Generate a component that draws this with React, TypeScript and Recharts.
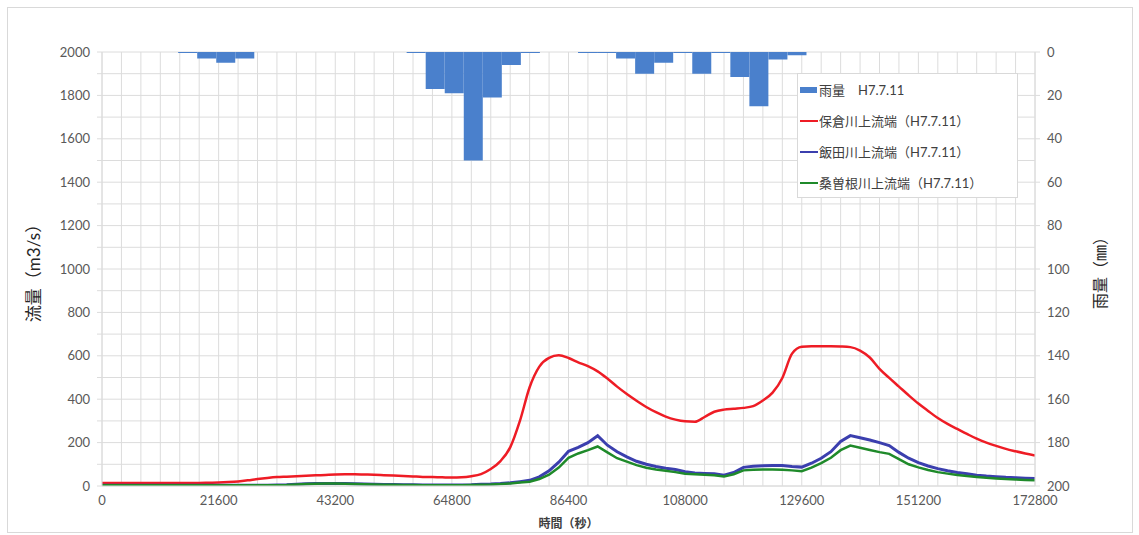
import React from "react";
import {
    ComposedChart,
    Bar,
    Line,
    XAxis,
    YAxis,
    CartesianGrid,
    Legend,
} from "recharts";

const FONT = "Lato, 'Noto Sans CJK JP', sans-serif";

// 雨量 (mm) : 1時間ごと 0〜48
const RAIN_HOURS = [
    0, 1, 2, 3, 4, 5, 6, 7, 8, 9, 10, 11, 12, 13, 14, 15, 16, 17, 18, 19, 20, 21, 22, 23, 24,
    25, 26, 27, 28, 29, 30, 31, 32, 33, 34, 35, 36, 37, 38, 39, 40, 41, 42, 43, 44, 45, 46, 47, 48,
];
const RAIN = [
    0, 0, 0, 0, 0.5, 3, 5, 3, 0, 0, 0, 0, 0, 0, 0, 0, 0.5, 17, 19, 50, 21, 6, 0.5, 0, 0,
    0.5, 0.5, 3, 10, 5, 0.5, 10, 0.5, 11.5, 25, 3.5, 1.5, 0, 0, 0, 0, 0, 0, 0, 0, 0, 0, 0, 0,
];

// 流量 (m3/s) : 30分ごと
const FLOW_TIME = [
    0, 1800, 3600, 5400, 7200, 9000, 10800, 12600, 14400, 16200, 18000, 19800, 21600, 23400,
    25200, 27000, 28800, 30600, 32400, 34200, 36000, 37800, 39600, 41400, 43200, 45000, 46800,
    48600, 50400, 52200, 54000, 55800, 57600, 59400, 61200, 63000, 64800, 66600, 68400, 70200,
    72000, 73800, 75600, 77400, 79200, 81000, 82800, 84600, 86400, 88200, 90000, 91800, 93600,
    95400, 97200, 99000, 100800, 102600, 104400, 106200, 108000, 109800, 111600, 113400, 115200,
    117000, 118800, 120600, 122400, 124200, 126000, 127800, 129600, 131400, 133200, 135000,
    136800, 138600, 140400, 142200, 144000, 145800, 147600, 149400, 151200, 153000, 154800,
    156600, 158400, 160200, 162000, 163800, 165600, 167400, 169200, 171000, 172800,
];
const HOKURA = [
    14, 14, 14, 14, 14, 14, 14, 14, 14, 14, 14, 15, 16, 18, 21, 26, 32, 37, 41, 43,
    45, 47, 49, 51, 53, 54, 54, 53, 52, 50, 48, 46, 44, 42, 41, 40, 39, 40, 45, 55,
    78, 115, 178, 300, 455, 550, 590, 602, 590, 570, 552, 528, 495, 458, 424, 393, 364, 340, 320, 306,
    298, 296, 318, 342, 352, 356, 360, 368, 394, 430, 498, 610, 642, 644, 644, 644, 643, 640, 624, 592,
    540, 498, 458, 418, 380, 346, 313, 286, 263, 240, 218, 200, 185, 171, 160, 150, 141,
];
const IIDA = [
    4, 4, 4, 4, 4, 4, 4, 4, 4, 4, 4, 4, 4, 4, 4, 4, 4, 4, 5,
    6, 8, 10, 11, 12, 12, 11, 10, 9, 8,
    7, 7, 6, 6, 5, 5, 5, 5, 5, 6,
    8, 9, 11, 15, 20, 26, 42, 70, 110, 160,
    178, 200, 232, 188, 158, 134, 114, 100, 90, 82,
    76, 66, 60, 58, 56, 50, 62, 86, 91, 93,
    95, 94, 90, 87, 105, 128, 158, 205, 232, 222,
    212, 200, 186, 155, 128, 108, 92, 80, 70, 62,
    56, 50, 46, 43, 40, 38, 36, 34,
];
const KUWASONE = [
    3, 3, 3, 3, 3, 3, 3, 3, 3, 3, 3, 3, 3, 3, 3, 3, 3, 3, 4,
    5, 7, 9, 10, 11, 11, 10, 9, 8, 7,
    6, 6, 5, 5, 4, 4, 4, 4, 4, 5,
    6, 7, 9, 12, 16, 20, 32, 52, 85, 130,
    150, 165, 182, 155, 128, 112, 96, 84, 76, 70,
    64, 56, 54, 52, 50, 44, 54, 72, 75, 76,
    76, 75, 72, 68, 85, 105, 130, 165, 186, 176,
    166, 156, 148, 124, 100, 86, 74, 64, 57, 51,
    46, 42, 38, 35, 32, 30, 28, 26,
];

const X_LABEL_TICKS = [0, 21600, 43200, 64800, 86400, 108000, 129600, 151200, 172800];
const FLOW_TICKS = [
    0, 100, 200, 300, 400, 500, 600, 700, 800, 900, 1000, 1100, 1200, 1300, 1400, 1500,
    1600, 1700, 1800, 1900, 2000,
];
const RAIN_TICKS = [0, 20, 40, 60, 80, 100, 120, 140, 160, 180, 200];

const NAMES = {
    rain: "雨量　H7.7.11",
    hokura: "保倉川上流端（H7.7.11）",
    iida: "飯田川上流端（H7.7.11）",
    kuwasone: "桑曽根川上流端（H7.7.11）",
};
const LEGEND_ORDER = [NAMES.rain, NAMES.hokura, NAMES.iida, NAMES.kuwasone];

const colors = {
    rain: "#4a80cc",
    hokura: "#ee1c25",
    iida: "#3b3fae",
    kuwasone: "#1f8a2a",
    grid: "#dcdcdc",
    tick: "#595959",
};

const rainData = RAIN_HOURS.map((h, i) => ({ hour: h, rain: RAIN[i] }));
const flowData = FLOW_TIME.map((t, i) => ({
    t,
    hokura: HOKURA[i],
    iida: IIDA[i],
    kuwasone: KUWASONE[i],
}));
const timeGrid = RAIN_HOURS.map((h) => h * 3600);

const tickStyle = { fontSize: 13, fill: colors.tick, fontFamily: FONT };

const LegendBox = (props: any) => {
    const { payload } = props;
    if (!payload) return null;
    const items = [...payload].sort(
        (a: any, b: any) => LEGEND_ORDER.indexOf(a.value) - LEGEND_ORDER.indexOf(b.value)
    );
    return (
        <div
            style={{
                background: "#fff",
                border: "1px solid #d9d9d9",
                width: 221,
                height: 125,
                boxSizing: "border-box",
                padding: "0 0 0 2px",
                fontFamily: FONT,
                fontSize: 13,
                color: "#404040",
            }}
        >
            {items.map((entry: any) => (
                <div key={entry.value} style={{ display: "flex", alignItems: "center", height: 31 }}>
                    {entry.type === "rect" ? (
                        <span style={{ width: 17, height: 6, background: entry.color, marginRight: 2 }} />
                    ) : (
                        <span style={{ width: 18, height: 2, background: entry.color, marginRight: 1 }} />
                    )}
                    <span>{entry.value}</span>
                </div>
            ))}
        </div>
    );
};

export default function App() {
    return (
        <div style={{ position: "absolute", left: 0, top: 0, width: 1139, height: 535, background: "#fff" }}>
            <div
                style={{
                    position: "absolute",
                    left: 7,
                    top: 7,
                    width: 1126,
                    height: 526,
                    border: "1px solid #d9d9d9",
                    boxSizing: "border-box",
                }}
            />
            <ComposedChart
                width={1139}
                height={535}
                data={rainData}
                margin={{ top: 52, right: 34, left: 38, bottom: 5 }}
                barCategoryGap={0}
                barGap={0}
            >
                <CartesianGrid xAxisId="time" yAxisId="flow" stroke={colors.grid} />
                <XAxis xAxisId="rain" dataKey="hour" type="category" orientation="top" hide />
                <XAxis
                    xAxisId="time"
                    dataKey="t"
                    type="number"
                    domain={[0, 172800]}
                    ticks={timeGrid}
                    interval={0}
                    allowDataOverflow
                    tickFormatter={(v) => (X_LABEL_TICKS.includes(v) ? String(v) : "")}
                    tickLine={false}
                    tickSize={0}
                    tickMargin={10}
                    axisLine={{ stroke: colors.grid }}
                    tick={tickStyle}
                    height={44}
                    label={{
                        value: "時間（秒）",
                        position: "insideBottom",
                        offset: 2,
                        style: { fontSize: 12, fill: "#404040", fontFamily: FONT, fontWeight: 600 },
                    }}
                />
                <YAxis
                    yAxisId="flow"
                    domain={[0, 2000]}
                    ticks={FLOW_TICKS}
                    interval={0}
                    allowDataOverflow
                    tickFormatter={(v) => (v % 200 === 0 ? String(v) : "")}
                    tickSize={5}
                    tickMargin={7}
                    tickLine={{ stroke: colors.grid }}
                    axisLine={{ stroke: colors.grid }}
                    tick={tickStyle}
                    width={64}
                    label={{
                        value: "流量（m3/s）",
                        angle: -90,
                        position: "insideLeft",
                        offset: -4,
                        style: { textAnchor: "middle", fontSize: 17, fill: "#262626", fontFamily: FONT },
                    }}
                />
                <YAxis
                    yAxisId="rain"
                    orientation="right"
                    reversed
                    domain={[0, 200]}
                    ticks={RAIN_TICKS}
                    interval={0}
                    allowDataOverflow
                    tickSize={5}
                    tickMargin={7}
                    tickLine={{ stroke: colors.grid }}
                    axisLine={{ stroke: colors.grid }}
                    tick={tickStyle}
                    width={70}
                    label={{
                        value: "雨量（㎜）",
                        angle: -90,
                        position: "insideRight",
                        offset: 5,
                        style: { textAnchor: "middle", fontSize: 16, fill: "#262626", fontFamily: FONT },
                    }}
                />
                <Legend
                    layout="vertical"
                    align="center"
                    verticalAlign="middle"
                    content={<LegendBox />}
                    wrapperStyle={{ left: 797, top: 73, right: "auto", bottom: "auto", width: 221, height: 125 }}
                />

                {/* 雨量 */}
                <Bar
                    xAxisId="rain"
                    yAxisId="rain"
                    dataKey="rain"
                    name={NAMES.rain}
                    fill={colors.rain}
                    legendType="rect"
                    isAnimationActive={false}
                />

                {/* 流量 */}
                <Line
                    xAxisId="time"
                    yAxisId="flow"
                    data={flowData}
                    dataKey="hokura"
                    name={NAMES.hokura}
                    type="monotone"
                    stroke={colors.hokura}
                    strokeWidth={2.5}
                    dot={false}
                    activeDot={false}
                    legendType="line"
                    isAnimationActive={false}
                />
                <Line
                    xAxisId="time"
                    yAxisId="flow"
                    data={flowData}
                    dataKey="iida"
                    name={NAMES.iida}
                    type="linear"
                    stroke={colors.iida}
                    strokeWidth={3}
                    dot={false}
                    activeDot={false}
                    legendType="line"
                    isAnimationActive={false}
                />
                <Line
                    xAxisId="time"
                    yAxisId="flow"
                    data={flowData}
                    dataKey="kuwasone"
                    name={NAMES.kuwasone}
                    type="linear"
                    stroke={colors.kuwasone}
                    strokeWidth={2.5}
                    dot={false}
                    activeDot={false}
                    legendType="line"
                    isAnimationActive={false}
                />
            </ComposedChart>
        </div>
    );
}
